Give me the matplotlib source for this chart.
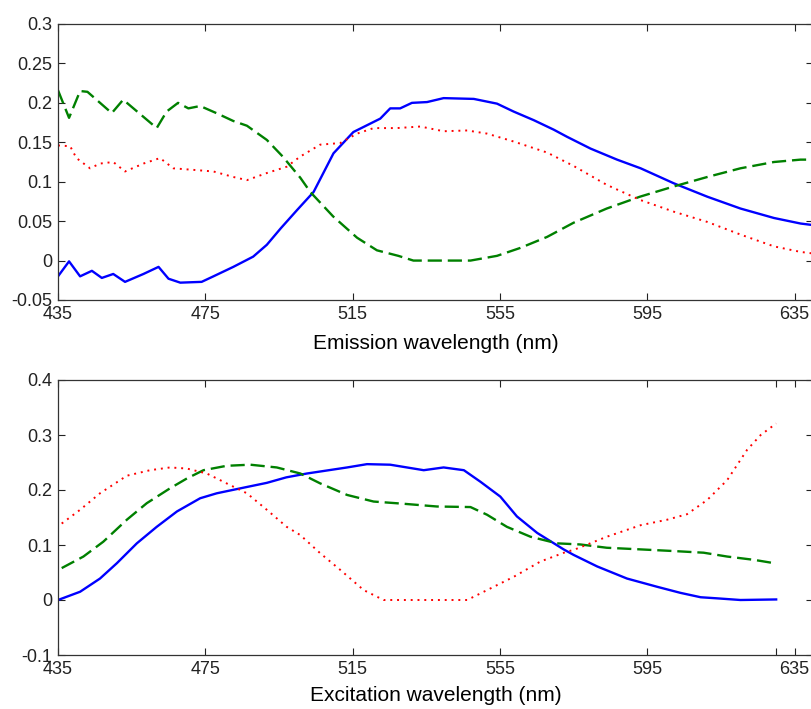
import matplotlib
matplotlib.use('Agg')
import matplotlib.pyplot as plt

plt.rcParams['font.family'] = ['Liberation Sans', 'DejaVu Sans']

# emission loadings (top panel)
em_blue_x = [435, 438, 441, 444.2, 446.9, 450, 453.2, 458.2, 462.3, 465, 468.2, 474, 477.2, 482.6, 488,
             491.7, 495.5, 499.9, 504.4, 509.8, 515.2, 522.5, 525.2, 527.9, 531.1, 535.2, 539.7, 547.9,
             554.2, 558.7, 564.2, 569.6, 573.2, 579.6, 586.8, 593.2, 602.2, 611.3, 620.3, 629.4, 636.6, 640]
em_blue_y = [-0.020, -0.001, -0.020, -0.013, -0.022, -0.017, -0.027, -0.017, -0.008, -0.023, -0.028, -0.027,
             -0.020, -0.008, 0.005, 0.020, 0.041, 0.064, 0.087, 0.136, 0.163, 0.180, 0.193, 0.193, 0.200,
             0.201, 0.206, 0.205, 0.199, 0.189, 0.178, 0.166, 0.157, 0.142, 0.128, 0.117, 0.098, 0.081, 0.066,
             0.054, 0.047, 0.045]

em_green_x = [435, 438, 441, 443, 449.6, 452.7, 461.8, 464.5, 467.6, 470.4, 473.6, 478, 482.6, 486.3, 491.7,
              496, 500.8, 503.5, 509.7, 516.2, 521.6, 527.4, 531.5, 547, 554.2, 560.5, 567.8, 575, 584, 593,
              602.2, 611.3, 620.3, 629.4, 636.6, 640]
em_green_y = [0.216, 0.181, 0.215, 0.214, 0.187, 0.204, 0.168, 0.189, 0.200, 0.193, 0.196, 0.187, 0.177, 0.171,
              0.153, 0.132, 0.105, 0.087, 0.056, 0.029, 0.013, 0.006, 0.0, 0.0, 0.006, 0.016, 0.030, 0.048, 0.066,
              0.081, 0.094, 0.106, 0.117, 0.125, 0.128, 0.128]

em_red_x = [435, 438.3, 440, 443.7, 446.4, 450, 453.2, 458.2, 462.7, 466.3, 471.8, 477.2, 482.6, 486.3, 491.7,
            497.1, 500.8, 506.2, 511.6, 516.2, 520.7, 527, 533.4, 539.7, 546.1, 551.5, 558.7, 567.8, 575, 584,
            593, 602.2, 611.3, 620.3, 629.4, 636.6, 640]
em_red_y = [0.146, 0.145, 0.130, 0.117, 0.123, 0.125, 0.113, 0.123, 0.130, 0.117, 0.115, 0.113, 0.106, 0.102,
            0.111, 0.119, 0.132, 0.147, 0.149, 0.161, 0.168, 0.168, 0.170, 0.164, 0.165, 0.161, 0.151, 0.137,
            0.120, 0.096, 0.077, 0.062, 0.049, 0.033, 0.018, 0.011, 0.009]

# excitation loadings (bottom panel)
ex_blue_x = [435, 441, 446.4, 451, 456.4, 461.8, 467.3, 473.6, 478.1, 484.5, 491.7, 497, 502.6, 513.5, 518.9,
             525.2, 534.3, 539.7, 545.2, 549.7, 555.1, 559.6, 565.1, 572.3, 575, 581.4, 589.5, 597.7, 604,
             609.5, 614, 620.3, 630]
ex_blue_y = [0.0, 0.015, 0.039, 0.067, 0.103, 0.133, 0.161, 0.185, 0.194, 0.203, 0.213, 0.223, 0.230, 0.241,
             0.247, 0.246, 0.236, 0.241, 0.236, 0.215, 0.188, 0.152, 0.122, 0.092, 0.082, 0.061, 0.039, 0.024,
             0.013, 0.005, 0.003, 0.0, 0.001]

ex_green_x = [436, 441.9, 447.3, 453.7, 459.1, 465.4, 470, 474.5, 480.8, 487.2, 494.4, 500.8, 506.2, 513.5,
              520.7, 528.8, 537.9, 547, 551.5, 556.9, 563.3, 570.5, 576.8, 584, 593.2, 602.2, 610.3, 616.7,
              624, 629.4]
ex_green_y = [0.058, 0.079, 0.106, 0.146, 0.176, 0.203, 0.221, 0.236, 0.244, 0.246, 0.241, 0.230, 0.212, 0.191,
              0.179, 0.175, 0.170, 0.169, 0.155, 0.133, 0.115, 0.103, 0.101, 0.095, 0.092, 0.089, 0.086, 0.079,
              0.073, 0.067]

ex_red_x = [436, 441, 446.4, 453.7, 460, 465.4, 470, 475.4, 480.8, 486.3, 491.7, 497.1, 500.8, 506.2, 511.6,
            518, 523.4, 546.1, 551.5, 558.7, 566, 573.2, 575, 584, 593.2, 600.4, 605.8, 611.3, 616.7, 622.1,
            625.8, 630]
ex_red_y = [0.139, 0.164, 0.194, 0.226, 0.236, 0.241, 0.239, 0.230, 0.212, 0.194, 0.164, 0.133, 0.118, 0.085,
            0.055, 0.018, 0.0, 0.0, 0.018, 0.042, 0.070, 0.088, 0.091, 0.115, 0.136, 0.146, 0.156, 0.182, 0.218,
            0.273, 0.300, 0.321]

# ticks
x_ticks = [435, 475, 515, 555, 595, 635]
x_labels = ['435', '475', '515', '555', '595', '635']
ex_x_ticks = [435, 475, 515, 555, 595, 630, 635]
ex_x_labels = ['435', '475', '515', '555', '595', '', '635']
em_y_ticks = [-0.05, 0, 0.05, 0.1, 0.15, 0.2, 0.25, 0.3]
em_y_labels = ['-0.05', '0', '0.05', '0.1', '0.15', '0.2', '0.25', '0.3']
ex_y_ticks = [-0.1, 0, 0.1, 0.2, 0.3, 0.4]
ex_y_labels = ['-0.1', '0', '0.1', '0.2', '0.3', '0.4']

fig = plt.figure(figsize=(8.11, 7.09), dpi=100)
ax1 = fig.add_axes([58 / 811, 1 - 300 / 709, 755 / 811, 276 / 709])
ax2 = fig.add_axes([58 / 811, 1 - 655 / 709, 755 / 811, 275 / 709])


def style_lines(ax, bx, by, gx, gy, rx, ry):
    ax.plot(bx, by, color='#0000ff', lw=1.7, solid_joinstyle='round')
    ax.plot(gx, gy, color='#008000', lw=1.7, ls=(0, (6, 2.5)))
    ax.plot(rx, ry, color='#ff0000', lw=1.4, ls=(0, (1, 2.5)))


style_lines(ax1, em_blue_x, em_blue_y, em_green_x, em_green_y, em_red_x, em_red_y)
style_lines(ax2, ex_blue_x, ex_blue_y, ex_green_x, ex_green_y, ex_red_x, ex_red_y)

# axes layout, matlab look
for ax, yt, yl, ylim, xt, xl in [(ax1, em_y_ticks, em_y_labels, (-0.05, 0.3), x_ticks, x_labels),
                                 (ax2, ex_y_ticks, ex_y_labels, (-0.1, 0.4), ex_x_ticks, ex_x_labels)]:
    ax.set_xlim(435, 640)
    ax.set_ylim(*ylim)
    ax.set_xticks(xt)
    ax.set_xticklabels(xl)
    ax.set_yticks(yt)
    ax.set_yticklabels(yl)
    ax.tick_params(direction='in', length=5, width=0.8, top=True, right=True,
                   labelsize=13, pad=4, colors='#222222')
    for s in ax.spines.values():
        s.set_linewidth(0.9)
        s.set_color('#333333')

ax1.set_xlabel('Emission wavelength (nm)', fontsize=15, va='top')
ax1.xaxis.set_label_coords(0.5, -0.123)
ax2.set_xlabel('Excitation wavelength (nm)', fontsize=15, va='top')
ax2.xaxis.set_label_coords(0.5, -0.113)

plt.savefig('out.png', dpi=100)
